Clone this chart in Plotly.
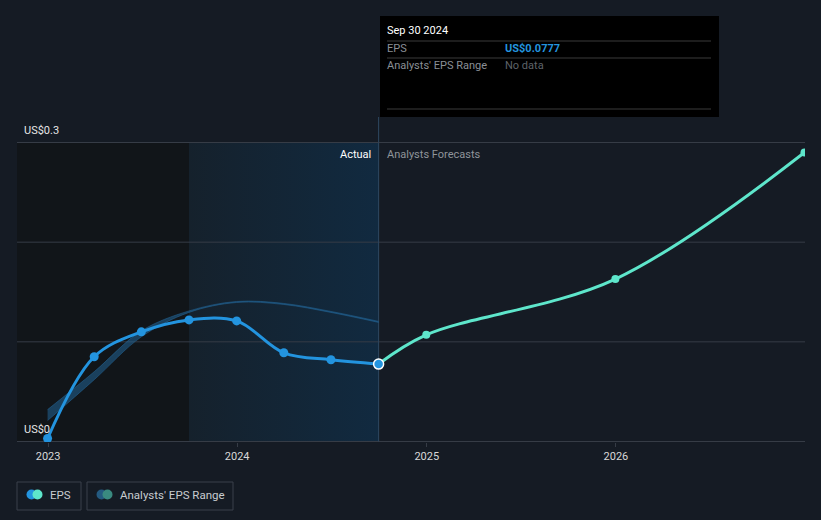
import plotly.graph_objects as go

# ---------------- data ----------------
eps_dates = ["2022-12-31", "2023-03-31", "2023-06-30", "2023-09-30",
             "2023-12-31", "2024-03-31", "2024-06-30", "2024-09-30"]
eps_values = [0.003, 0.085, 0.110, 0.122, 0.121, 0.089, 0.082, 0.0777]

forecast_dates = ["2024-09-30", "2024-12-31", "2025-12-31", "2026-12-31"]
forecast_values = [0.0777, 0.107, 0.163, 0.290]

range_dates = ["2022-12-31", "2023-03-31", "2023-06-30", "2023-09-30",
               "2023-12-31", "2024-03-31", "2024-06-30", "2024-09-30"]
range_low = [0.021, 0.062, 0.105, 0.1295, 0.1395, 0.1375, 0.1295, 0.1195]
range_high = [0.032, 0.070, 0.111, 0.1310, 0.1405, 0.1385, 0.1305, 0.1205]

x_ticks = ["2023-01-01", "2024-01-01", "2025-01-01", "2026-01-01"]
x_tick_labels = ["2023", "2024", "2025", "2026"]
y_ticks = [0, 0.1, 0.2, 0.3]
y_labels = {0: "US$0", 0.3: "US$0.3"}

x_range = ["2022-11-02", "2027-01-01"]
y_range = [-0.0005, 0.3005]
past_start = "2022-11-02"
actual_start = "2023-09-30"
actual_end = "2024-09-30"

tooltip_date = "Sep 30 2024"
tooltip_eps = "US$0.0777"

# ---------------- style ----------------
BG = "#151b24"
BLUE = "#2394df"
TEAL = "#5ee6cb"
GRID = "#363c46"
FONT = "Roboto"

W, H = 821, 520
ML, MR, MT, MB = 17, 16, 142, 78
PW, PH = W - ML - MR, H - MT - MB


def px(xp):
    return (xp - ML) / PW


def py(yp):
    return (H - MB - yp) / PH


fig = go.Figure()
shapes = []
annotations = []

# past (dark) region
shapes.append(dict(type="rect", xref="x", yref="y", x0=past_start, x1=actual_start,
                   y0=0, y1=0.3, fillcolor="#111519", line_width=0, layer="below"))

# actual region with horizontal gradient
fig.add_trace(go.Scatter(
    x=[actual_start, actual_end, actual_end, actual_start, actual_start],
    y=[0, 0, 0.3, 0.3, 0], fill="toself", mode="none",
    fillgradient=dict(type="horizontal",
                      colorscale=[[0, "#15212c"], [1, "#112a40"]]),
    hoverinfo="skip", showlegend=False))

# gridlines (as a trace so they sit above the shaded regions, below the data)
gx, gy = [], []
for v in y_ticks:
    gx += [x_range[0], x_range[1], None]
    gy += [v, v, None]
fig.add_trace(go.Scatter(x=gx, y=gy, mode="lines", line=dict(color=GRID, width=1),
                         hoverinfo="skip", showlegend=False))

# vertical divider line
fig.add_trace(go.Scatter(x=[actual_end, actual_end], y=[0, 0.3], mode="lines",
                         line=dict(color="#2e4760", width=1),
                         hoverinfo="skip", showlegend=False))
shapes.append(dict(type="line", xref="x", yref="paper", x0=actual_end, x1=actual_end,
                   y0=1, y1=py(117), line=dict(color="#2e4760", width=1)))

# analysts' range band
fig.add_trace(go.Scatter(x=range_dates, y=range_low, mode="lines",
                         line=dict(color="rgba(35,100,150,0.55)", width=1, shape="spline"),
                         hoverinfo="skip", showlegend=False))
fig.add_trace(go.Scatter(x=range_dates, y=range_high, mode="lines", fill="tonexty",
                         fillcolor="rgba(35,100,150,0.55)",
                         line=dict(color="rgba(35,100,150,0.55)", width=1, shape="spline"),
                         hoverinfo="skip", showlegend=False))

# forecast line
fig.add_trace(go.Scatter(x=forecast_dates, y=forecast_values, mode="lines+markers",
                         line=dict(color=TEAL, width=3, shape="spline", smoothing=1),
                         marker=dict(size=8, color=TEAL),
                         hoverinfo="skip", showlegend=False))

# EPS line
fig.add_trace(go.Scatter(x=eps_dates, y=eps_values, mode="lines+markers",
                         line=dict(color=BLUE, width=3, shape="spline", smoothing=1),
                         marker=dict(size=9, color=BLUE),
                         hoverinfo="skip", showlegend=False))
# highlighted last point
fig.add_trace(go.Scatter(x=[eps_dates[-1]], y=[eps_values[-1]], mode="markers",
                         marker=dict(size=10, color=BLUE, line=dict(color="white", width=1.5)),
                         hoverinfo="skip", showlegend=False))

# tooltip box
shapes.append(dict(type="rect", xref="paper", yref="paper",
                   x0=px(380), x1=px(719), y0=py(117), y1=py(16),
                   fillcolor="#000000", line_width=0))
for yl in (41, 58, 109):
    shapes.append(dict(type="line", xref="paper", yref="paper",
                       x0=px(387), x1=px(711), y0=py(yl), y1=py(yl),
                       line=dict(color="#3a3a3a", width=1)))
annotations += [
    dict(text=tooltip_date, x=px(385), y=py(31), xanchor="left", yanchor="middle",
         font=dict(color="#ffffff", size=11, family=FONT)),
    dict(text="EPS", x=px(385), y=py(49), xanchor="left", yanchor="middle",
         font=dict(color="#8a8f96", size=11, family=FONT)),
    dict(text="<b>" + tooltip_eps + "</b>", x=px(503), y=py(49), xanchor="left", yanchor="middle",
         font=dict(color=BLUE, size=11, family=FONT)),
    dict(text="Analysts' EPS Range", x=px(385), y=py(66), xanchor="left", yanchor="middle",
         font=dict(color="#8a8f96", size=11, family=FONT)),
    dict(text="No data", x=px(503), y=py(66), xanchor="left", yanchor="middle",
         font=dict(color="#5e6369", size=11, family=FONT)),
]

# region labels
annotations += [
    dict(text="Actual", x=px(373), y=py(154), xanchor="right", yanchor="middle",
         font=dict(color="#ffffff", size=11, family=FONT)),
    dict(text="Analysts Forecasts", x=px(385), y=py(154), xanchor="left", yanchor="middle",
         font=dict(color="#8f949a", size=11, family=FONT)),
]

# y labels
for v, lab in y_labels.items():
    annotations.append(dict(text=lab, xref="paper", yref="y", x=px(22), y=v, yshift=12,
                            xanchor="left", yanchor="middle", showarrow=False,
                            font=dict(color="#e6e6e6", size=11, family=FONT)))

# legend boxes
shapes += [
    dict(type="rect", xref="paper", yref="paper", x0=px(17), x1=px(81), y0=py(510), y1=py(482),
         line=dict(color="#3a404a", width=1), fillcolor="rgba(0,0,0,0)"),
    dict(type="rect", xref="paper", yref="paper", x0=px(87), x1=px(233), y0=py(510), y1=py(482),
         line=dict(color="#3a404a", width=1), fillcolor="rgba(0,0,0,0)"),
]


def dot(cx, cy, r, color):
    return dict(type="circle", xref="paper", yref="paper",
                x0=px(cx - r), x1=px(cx + r), y0=py(cy + r), y1=py(cy - r),
                fillcolor=color, line_width=0)


shapes += [dot(31.5, 494.5, 5, BLUE), dot(37.5, 494.5, 5, TEAL),
           dot(101.5, 494.5, 5, "#245a80"), dot(107.5, 494.5, 5, "#3a8a80")]

annotations += [
    dict(text="EPS", x=px(48), y=py(494.5), xanchor="left", yanchor="middle",
         font=dict(color="#c8ccd0", size=11.5, family=FONT)),
    dict(text="Analysts' EPS Range", x=px(118), y=py(494.5), xanchor="left", yanchor="middle",
         font=dict(color="#c8ccd0", size=11.5, family=FONT)),
]

for a in annotations:
    a.setdefault("xref", "paper")
    a.setdefault("yref", "paper")
    a.setdefault("showarrow", False)

fig.update_layout(
    width=W, height=H,
    margin=dict(l=ML, r=MR, t=MT, b=MB),
    paper_bgcolor=BG, plot_bgcolor=BG,
    hovermode=False,
    showlegend=False,
    shapes=shapes,
    annotations=annotations,
    xaxis=dict(type="date", range=x_range, tickvals=x_ticks, ticktext=x_tick_labels,
               showgrid=False, zeroline=False, showline=False,
               ticks="outside", ticklen=4, tickcolor=GRID, tickwidth=1,
               tickfont=dict(color="#d8d8d8", size=11, family=FONT), fixedrange=True),
    yaxis=dict(range=y_range, tickvals=y_ticks, showticklabels=False,
               showgrid=False, zeroline=False, showline=False, fixedrange=True),
)

fig.write_html("out.html", config={"displayModeBar": False},
               post_script="document.body.style.margin='0';document.body.style.background='%s';" % BG)
